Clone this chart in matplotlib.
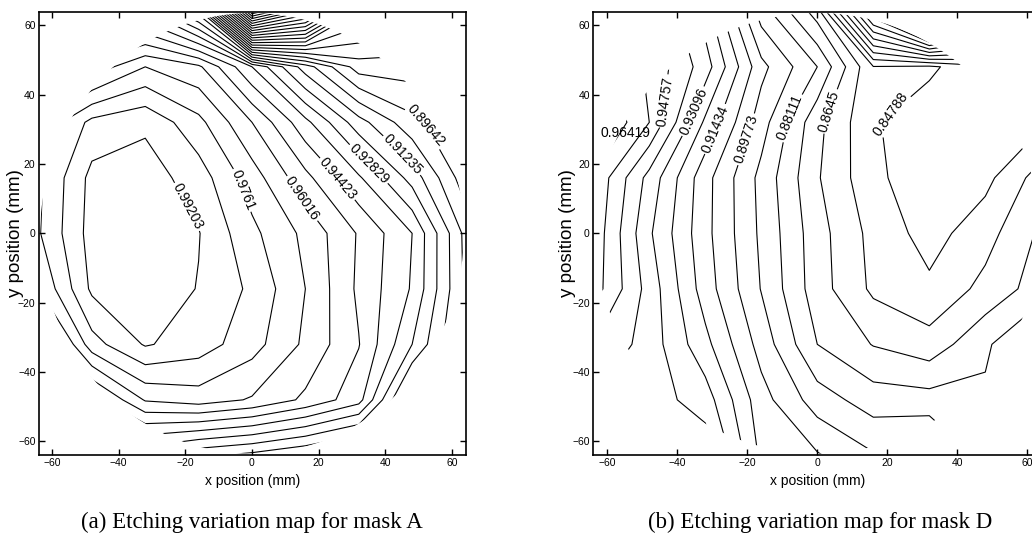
import numpy as np
import matplotlib
matplotlib.use("Agg")
import matplotlib.pyplot as plt
from matplotlib.patches import Circle

plt.rcParams['font.family'] = ['Liberation Sans', 'DejaVu Sans']

# grid coordinates (mm)
grid_x = [-64, -48, -32, -16, 0, 16, 32, 48, 64]
grid_y = [-64, -48, -32, -16, 0, 16, 32, 48, 64]

# Mask A: contour-step index (rows bottom -> top)
step_a = 0.0079675
top_a = 0.99203
idx_a = [
    [9.0, 8.5, 7.8, 8.8, 9.3, 10.0, 11.0, 12.0, 13.0],
    [8.0, 5.5, 2.9, 2.5, 3.1, 4.2, 5.6, 11.0, 12.0],
    [6.0, 1.4, -0.1, 0.5, 1.6, 3.2, 4.95, 8.0, 11.5],
    [3.0, -0.2, -0.7, 0.05, 1.2, 3.0, 5.2, 7.1, 11.2],
    [2.1, -0.4, -0.8, -0.05, 1.75, 3.25, 5.1, 7.0, 11.3],
    [2.2, -0.3, -0.5, 0.5, 2.5, 4.7, 6.85, 9.4, 12.6],
    [3.0, 0.7, 0.2, 1.7, 4.0, 6.7, 9.6, 11.7, 13.0],
    [5.0, 4.7, 3.0, 3.8, 7.0, 10.5, 13.5, 13.5, 13.5],
    [7.0, 7.5, 8.0, 11.5, 30.0, 25.0, 17.0, 16.0, 15.0],
]
# Mask D
step_d = 0.0083075
top_d = 0.96419
idx_d = [
    [3.5, 4.0, 3.3, 7.24, 7.9, 8.9, 8.5, 10.4, 10.5],
    [3.0, 3.5, 4.5, 7.6, 9.5, 10.5, 10.6, 10.8, 10.5],
    [2.0, 3.45, 5.7, 8.4, 11.0, 12.05, 12.6, 11.2, 9.5],
    [0.5, 3.4, 6.5, 9.05, 11.55, 13.2, 13.8, 12.7, 11.5],
    [0.3, 3.85, 6.7, 9.2, 11.6, 13.33, 14.4, 13.4, 11.8],
    [0.1, 3.35, 6.65, 9.3, 11.9, 13.75, 14.7, 14.3, 12.5],
    [-1.5, 1.0, 5.2, 8.55, 11.7, 13.9, 14.6, 14.7, 14.2],
    [-0.5, 1.2, 3.5, 7.7, 10.0, 13.95, 13.8, 14.8, 15.0],
    [0.0, 1.5, 4.5, 9.5, 12.5, 22.0, 30.0, 24.0, 18.0],
]

labels_a = ['0.99203', '0.9761', '0.96016', '0.94423', '0.92829', '0.91235', '0.89642']
label_pos_a = [(-19.5, 7.6), (-2.7, 12.5), (15.3, 10.2), (25.9, 15.9),
               (36.1, 21.1), (45.9, 23.4), (52.0, 30.9)]
labels_d = ['0.96419', '0.94757', '0.93096', '0.91434', '0.89773', '0.88111', '0.8645', '0.84788']
label_pos_d = [(-54.7, 28.9), (-43, 38), (-35, 35), (-29, 30), (-20, 27),
               (-8, 33.5), (4, 35), (21.5, 33.5)]

wafer_r = 63.5

fig = plt.figure(figsize=(10.32, 5.43), dpi=100)
ax_a = fig.add_axes([0.03779, 0.16206, 0.41376, 0.81584])
ax_d = fig.add_axes([0.5749, 0.16206, 0.43411, 0.81584])


def draw(ax, idx, top, step, labels, label_pos, xlim, ylab_x, horiz_first=False):
    X, Y = np.meshgrid(grid_x, grid_y)
    Z = top - step * np.array(idx)
    all_lev = [top - step * j for j in range(-1, 45)]
    all_lev = sorted(l for l in all_lev if Z.min() < l < Z.max())
    lab_lev = [top - step * 2 * i for i in range(len(labels))]
    plain = [l for l in all_lev if min(abs(l - m) for m in lab_lev) > step / 4]
    cs = ax.contour(X, Y, Z, levels=plain, colors='black', linewidths=0.8)
    cs.set_clip_path(Circle((0, 0), wafer_r, transform=ax.transData))
    for i, (txt, pos, lev) in enumerate(zip(labels, label_pos, lab_lev)):
        c1 = ax.contour(X, Y, Z, levels=[lev], colors='black', linewidths=0.8)
        c1.set_clip_path(Circle((0, 0), wafer_r, transform=ax.transData))
        if horiz_first and i == 0:
            ax.text(pos[0], pos[1], txt, fontsize=10, ha='center', va='center')
            continue
        try:
            ax.clabel(c1, manual=[pos], fmt={c1.levels[0]: txt}, inline=True,
                      fontsize=10, inline_spacing=2)
        except Exception:
            ax.text(pos[0], pos[1], txt, fontsize=10, ha='center', va='center')
    ax.set_xlim(*xlim)
    ax.set_ylim(-63.9, 63.8)
    ax.set_xticks([-60, -40, -20, 0, 20, 40, 60])
    ax.set_yticks([-60, -40, -20, 0, 20, 40, 60])
    ax.tick_params(direction='in', length=4, width=1, labelsize=7.5,
                   top=True, right=True, pad=2.5)
    for s in ax.spines.values():
        s.set_linewidth(1.2)
    ax.set_xlabel('x position (mm)', fontsize=10, labelpad=4)
    ax.set_ylabel('y position (mm)', fontsize=13.5)
    ax.yaxis.set_label_coords(ylab_x, 0.5)


draw(ax_a, idx_a, top_a, step_a, labels_a, label_pos_a, (-63.85, 64.15), -0.035)
draw(ax_d, idx_d, top_d, step_d, labels_d, label_pos_d, (-64, 64), -0.0386,
     horiz_first=True)

fig.text(0.2442, 0.038, '(a) Etching variation map for mask A', ha='center', va='center',
         fontsize=16.5, family='Liberation Serif')
fig.text(0.795, 0.038, '(b) Etching variation map for mask D', ha='center', va='center',
         fontsize=16.5, family='Liberation Serif')

fig.savefig('out.png', dpi=100)
